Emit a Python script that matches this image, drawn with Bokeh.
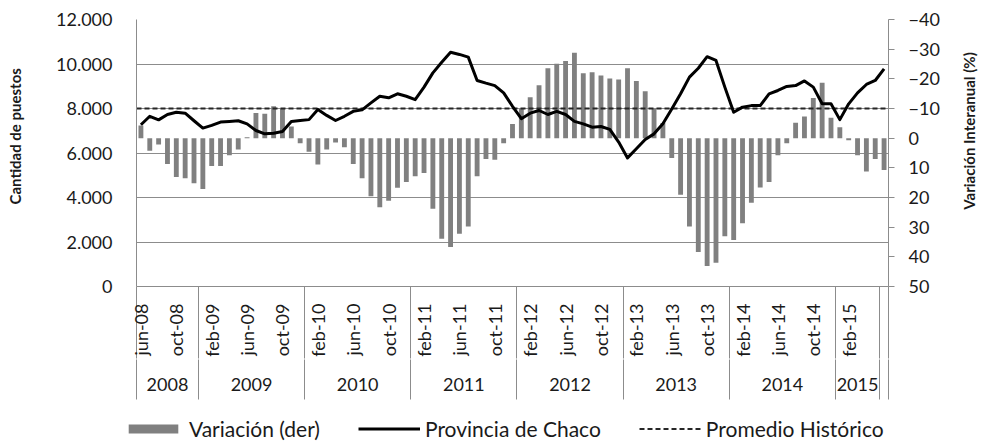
import math
from bokeh.plotting import figure
from bokeh.layouts import row, column
from bokeh.models import Range1d, LinearAxis, FixedTicker, Legend, LegendItem
from bokeh.core.properties import value
from bokeh.embed import file_html
from bokeh.resources import INLINE

# ---------------- data ----------------
MONTH_NAMES = ["ene", "feb", "mar", "abr", "may", "jun",
               "jul", "ago", "sep", "oct", "nov", "dic"]
YEARS = ["2008", "2009", "2010", "2011", "2012", "2013", "2014", "2015", ""]
YEAR_LENGTHS = [7, 12, 12, 12, 12, 12, 12, 5, 1]
FIRST_MONTH = 5  # junio 2008

provincia = [7270, 7650, 7490, 7730, 7830, 7790, 7450, 7120, 7240, 7390,
             7420, 7450, 7310, 7010, 6860, 6890, 6970, 7420, 7460, 7500,
             7950, 7690, 7460, 7650, 7870, 7940, 8250, 8550, 8480, 8660,
             8550, 8400, 8960, 9600, 10080, 10530, 10430, 10310, 9260, 9140,
             9030, 8700, 8100, 7540, 7790, 7910, 7730, 7870, 7730, 7420,
             7310, 7160, 7190, 7060, 6490, 5780, 6190, 6610, 6860, 7310,
             7980, 8660, 9410, 9810, 10330, 10160, 8960, 7830, 8060, 8130,
             8130, 8660, 8810, 8990, 9030, 9240, 8960, 8210, 8210, 7500,
             8210, 8700, 9080, 9260, 9780]

variacion = [-4.3, 4.2, 2.1, 8.7, 13.1, 13.5, 15.2, 17.1, 9.4, 9.4,
             5.8, 3.8, -0.3, -8.5, -8.2, -10.8, -9.9, -3.9, 1.7, 4.6,
             8.9, 3.8, 1.5, 3.1, 8.7, 13.5, 19.6, 23.3, 21.1, 16.7,
             14.8, 12.8, 11.7, 23.8, 33.9, 36.7, 32.2, 29.8, 12.8, 7.0,
             7.3, 1.7, -4.8, -9.9, -13.8, -17.8, -23.6, -25.1, -26.0, -28.8,
             -21.9, -22.2, -21.1, -20.1, -19.8, -23.6, -19.3, -15.8, -9.9, -5.1,
             6.7, 19.1, 29.8, 38.4, 43.1, 42.0, 33.1, 34.3, 28.7, 21.8,
             16.6, 14.8, 5.8, 1.7, -5.2, -7.3, -13.5, -18.7, -6.9, -3.7,
             0.7, 5.8, 11.2, 7.0, 10.7]

promedio = 8000

left_ticks = [0, 2000, 4000, 6000, 8000, 10000, 12000]
left_labels = ["0", "2.000", "4.000", "6.000", "8.000", "10.000", "12.000"]
right_ticks = [-40, -30, -20, -10, 0, 10, 20, 30, 40, 50]
LABEL_EVERY = 4
TITLE_LEFT = "Cantidad de puestos"
TITLE_RIGHT = "Variación Interanual (%)"
LEGEND_LABELS = ["Variación (der)", "Provincia de Chaco", "Promedio Histórico"]

# ---------------- derived categories ----------------
n = len(provincia)
month_labels = []
for i in range(n):
    m = (FIRST_MONTH + i) % 12
    yy = (2008 + (FIRST_MONTH + i) // 12) % 100
    month_labels.append("%s-%02d" % (MONTH_NAMES[m], yy))
bounds = [0]
for L in YEAR_LENGTHS:
    bounds.append(bounds[-1] + L)
labelled_n = bounds[-2]  # last category has no label
xc = [i + 0.5 for i in range(n)]
tick_pos = [xc[i] for i in range(0, labelled_n, LABEL_EVERY)]
tick_lab = {xc[i]: month_labels[i] for i in range(0, labelled_n, LABEL_EVERY)}
year_centers = {}
for k, yl in enumerate(YEARS):
    if yl:
        year_centers[(bounds[k] + bounds[k + 1]) / 2] = yl

FONT = "Lato"
GRAY = "#8c8c8c"
TXT = "#1a1a1a"
BAR_COLOR = "#808080"
AVG_COLOR = "#262626"
NAN = float("nan")

W_LT, W_MAIN, W_RT = 40, 904, 40
H_MAIN, H_LEG = 400, 41


def blank(width, height):
    f = figure(width=width, height=height, output_backend="svg",
               toolbar_location=None, x_range=Range1d(0, width),
               y_range=Range1d(0, height), x_axis_type=None, y_axis_type=None,
               min_border=0)
    f.outline_line_color = None
    f.grid.visible = False
    f.background_fill_color = "white"
    f.border_fill_color = "white"
    return f


# ---------------- main chart ----------------
p = figure(width=W_MAIN, height=H_MAIN, output_backend="svg", toolbar_location=None,
           x_range=Range1d(0, n), y_range=Range1d(left_ticks[0], left_ticks[-1]),
           min_border_left=96, min_border_right=56, min_border_top=19,
           min_border_bottom=114)
p.outline_line_color = None
p.background_fill_color = "white"
p.border_fill_color = "white"
p.extra_y_ranges = {"var": Range1d(right_ticks[-1], right_ticks[0])}

p.xgrid.visible = False
p.ygrid.ticker = FixedTicker(ticks=left_ticks)
p.ygrid.grid_line_color = GRAY
p.ygrid.grid_line_width = 1

la = p.yaxis[0]
la.ticker = FixedTicker(ticks=left_ticks)
la.major_label_overrides = {t: s for t, s in zip(left_ticks, left_labels)}
la.major_tick_out = 0
la.major_tick_in = 0
la.minor_tick_out = 0
la.minor_tick_in = 0
la.axis_line_color = GRAY
la.major_label_standoff = 24
la.major_label_text_font = FONT
la.major_label_text_font_size = "18px"
la.major_label_text_color = TXT

ra = LinearAxis(y_range_name="var", ticker=FixedTicker(ticks=right_ticks))
ra.major_tick_out = 6
ra.major_tick_in = 0
ra.minor_tick_out = 0
ra.minor_tick_in = 0
ra.axis_line_color = GRAY
ra.major_tick_line_color = GRAY
ra.major_label_standoff = 14
ra.major_label_text_font = FONT
ra.major_label_text_font_size = "18px"
ra.major_label_text_color = TXT
p.add_layout(ra, "right")

ba = p.xaxis[0]
ba.ticker = FixedTicker(ticks=tick_pos, minor_ticks=bounds)
ba.major_label_overrides = tick_lab
ba.major_label_orientation = math.pi / 2
ba.major_tick_out = 0
ba.major_tick_in = 0
ba.minor_tick_out = 72
ba.minor_tick_in = 0
ba.minor_tick_line_color = GRAY
ba.axis_line_color = GRAY
ba.major_label_standoff = 17 - 72
ba.major_label_text_font = FONT
ba.major_label_text_font_size = "18px"
ba.major_label_text_color = TXT

ya = LinearAxis(ticker=FixedTicker(ticks=list(year_centers.keys()), minor_ticks=bounds))
ya.major_label_overrides = year_centers
ya.major_tick_out = 0
ya.major_tick_in = 0
ya.minor_tick_out = 40
ya.minor_tick_in = 0
ya.minor_tick_line_color = GRAY
ya.axis_line_color = None
ya.major_label_standoff = 18 - 40
ya.major_label_text_font = FONT
ya.major_label_text_font_size = "18px"
ya.major_label_text_color = TXT
p.add_layout(ya, "below")

p.vbar(x=xc, top=variacion, bottom=0, width=0.55, fill_color=BAR_COLOR,
       line_color=None, y_range_name="var")
p.line([0, n], [promedio, promedio], line_color=AVG_COLOR, line_width=2,
       line_dash="5 3")
p.line(xc, provincia, line_color="black", line_width=3, line_join="round")

# ---------------- axis titles ----------------
p_lt = blank(W_LT, H_MAIN)
p_lt.text(x=[14], y=[H_MAIN - 175], text=[TITLE_LEFT], angle=math.pi / 2,
          text_align="center", text_baseline="middle", text_font=value(FONT),
          text_font_style="bold", text_font_size="15px", text_color=TXT)

p_rt = blank(W_RT, H_MAIN)
p_rt.text(x=[24], y=[H_MAIN - 167], text=[TITLE_RIGHT], angle=math.pi / 2,
          text_align="center", text_baseline="middle", text_font=value(FONT),
          text_font_style="bold", text_font_size="15px", text_color=TXT)

# ---------------- legend ----------------
p_leg = blank(W_LT + W_MAIN + W_RT, H_LEG)
r_bar = p_leg.vbar(x=[NAN], top=[NAN], bottom=0, width=1, fill_color=BAR_COLOR,
                   line_color=None)
r_line = p_leg.line(x=[NAN, NAN], y=[NAN, NAN], line_color="black", line_width=3)
r_avg = p_leg.line(x=[NAN, NAN], y=[NAN, NAN], line_color=AVG_COLOR, line_width=2,
                   line_dash="5 3")
legend = Legend(items=[LegendItem(label=LEGEND_LABELS[0], renderers=[r_bar]),
                       LegendItem(label=LEGEND_LABELS[1], renderers=[r_line]),
                       LegendItem(label=LEGEND_LABELS[2], renderers=[r_avg])],
                orientation="horizontal", location=(122, 0),
                glyph_width=62, glyph_height=11, spacing=38, label_standoff=5,
                padding=0, margin=0, border_line_color=None,
                background_fill_alpha=0,
                label_text_font=FONT, label_text_font_size="21px",
                label_text_color=TXT)
p_leg.add_layout(legend, "center")

layout = column(row(p_lt, p, p_rt), p_leg)

open("out.html", "w").write(file_html(layout, INLINE))
